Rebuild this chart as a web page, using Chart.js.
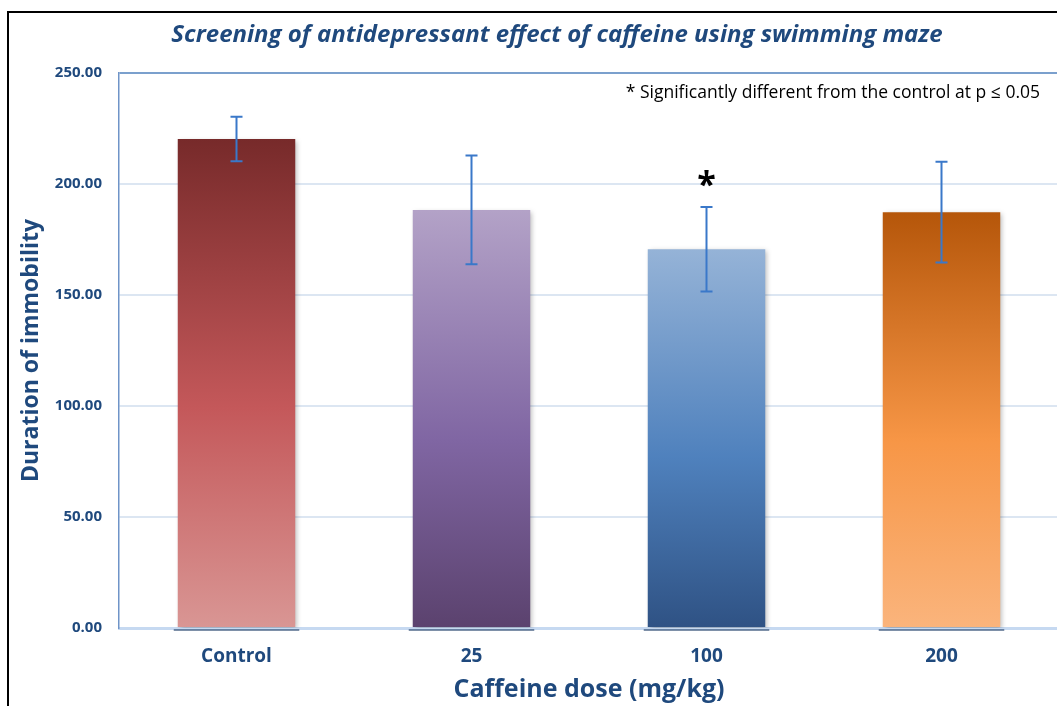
<!DOCTYPE html>
<html>
<head>
<meta charset="utf-8">
<script src="https://cdn.jsdelivr.net/npm/chart.js@4.4.0/dist/chart.umd.min.js"></script>
<style>
html, body { margin: 0; padding: 0; background: #fff; overflow: hidden; }
#wrap { position: relative; width: 1066px; height: 706px; }
#frame { position: absolute; left: 7px; top: 11px; width: 1100px; height: 800px; border-left: 2px solid #000; border-top: 2px solid #000; }
#c { position: absolute; left: 0; top: 0; }
</style>
</head>
<body>
<div id="wrap"><div id="frame"></div><canvas id="c" width="1066" height="706"></canvas></div>
<script>
/* Caffeine swimming maze — bar chart with SD bars */
const doseLabels = ['Control', '25', '100', '200'];
const immobility = [220.3, 188.3, 170.6, 187.3];
const immobilityErr = [10, 24.5, 19, 22.7];
const sigMarks = ['', '', '*', ''];
const yTicks = [0, 50, 100, 150, 200, 250];
const chartTitle = 'Screening of antidepressant effect of caffeine using swimming maze';
const noteText = '* Significantly different from the control at p \u2264 0.05';

const NAVY = '#1f497d';
const FONT = '"Open Sans"';
const GRADS = [
    ['#772a2a', '#c4585a', '#d99694'],
    ['#b3a2c7', '#8066a3', '#5b426e'],
    ['#95b3d7', '#4f81bd', '#2f5284'],
    ['#b5560a', '#f79646', '#fab47c'],
];

function barFill(c) {
    const { chart, dataIndex } = c;
    if (!chart.chartArea) return GRADS[dataIndex][1];
    const y = chart.scales.y;
    const g = chart.ctx.createLinearGradient(0, y.getPixelForValue(immobility[dataIndex]), 0, y.getPixelForValue(0));
    const s = GRADS[dataIndex];
    g.addColorStop(0, s[0]); g.addColorStop(0.55, s[1]); g.addColorStop(1, s[2]);
    return g;
}

const barShadow = {
    id: 'barShadow',
    beforeDatasetDraw(chart) {
        const ctx = chart.ctx;
        ctx.save();
        ctx.shadowColor = 'rgba(0,0,0,0.28)';
        ctx.shadowBlur = 5;
        ctx.shadowOffsetX = 2;
        ctx.shadowOffsetY = 2;
    },
    afterDatasetDraw(chart) {
        chart.ctx.restore();
        // dark base line under each bar
        const ctx = chart.ctx;
        const base = chart.scales.y.getPixelForValue(0);
        ctx.save();
        ctx.strokeStyle = 'rgba(40,70,110,0.8)';
        ctx.lineWidth = 1.5;
        chart.getDatasetMeta(0).data.forEach(b => {
            ctx.beginPath();
            ctx.moveTo(b.x - b.width / 2 - 4, base + 2);
            ctx.lineTo(b.x + b.width / 2 + 4, base + 2);
            ctx.stroke();
        });
        ctx.restore();
    }
};

const errorBars = {
    id: 'errorBars',
    afterDatasetsDraw(chart) {
        const { ctx, scales: { x, y } } = chart;
        ctx.save();
        ctx.strokeStyle = '#3a78c9';
        ctx.lineWidth = 2;
        immobility.forEach((v, i) => {
            const px = x.getPixelForValue(i);
            const top = y.getPixelForValue(v + immobilityErr[i]);
            const bot = y.getPixelForValue(v - immobilityErr[i]);
            ctx.beginPath();
            ctx.moveTo(px, top); ctx.lineTo(px, bot);
            ctx.moveTo(px - 6, top); ctx.lineTo(px + 6, top);
            ctx.moveTo(px - 6, bot); ctx.lineTo(px + 6, bot);
            ctx.stroke();
        });
        // significance marks
        ctx.fillStyle = '#000';
        ctx.font = 'bold 34px ' + FONT;
        ctx.textAlign = 'center';
        ctx.textBaseline = 'alphabetic';
        sigMarks.forEach((m, i) => {
            if (!m) return;
            ctx.fillText(m, x.getPixelForValue(i), y.getPixelForValue(immobility[i] + immobilityErr[i]) - 11);
        });
        // note
        ctx.font = '17.5px ' + FONT;
        ctx.textAlign = 'right';
        ctx.textBaseline = 'middle';
        ctx.fillText(noteText, 1040, 93);
        // chart title
        ctx.fillStyle = NAVY;
        ctx.font = 'italic bold 24px ' + FONT;
        ctx.textAlign = 'center';
        ctx.fillText(chartTitle, 557, 35);
        ctx.restore();
    }
};

new Chart(document.getElementById('c').getContext('2d'), {
    type: 'bar',
    data: {
        labels: doseLabels,
        datasets: [{
            data: immobility,
            backgroundColor: barFill,
            borderWidth: 0,
            barPercentage: 0.5,
            categoryPercentage: 1
        }]
    },
    options: {
        responsive: false,
        animation: false,
        layout: { padding: { left: 0, right: 7, top: 73, bottom: 0 } },
        plugins: {
            legend: { display: false },
            tooltip: { enabled: false },
            title: { display: false }
        },
        scales: {
            x: {
                grid: { display: false, drawTicks: false },
                border: { color: '#c6d9f1', width: 3 },
                ticks: { color: NAVY, font: { family: FONT, size: 19, weight: 'bold' }, padding: 17 },
                title: {
                    display: true, text: 'Caffeine dose (mg/kg)', color: NAVY,
                    font: { family: FONT, size: 25, weight: 'bold', lineHeight: 1.2 },
                    padding: { top: 0, bottom: 1 }
                },
                afterFit(s) { s.height = 78; }
            },
            y: {
                min: 0, max: 250,
                afterBuildTicks(s) { s.ticks = yTicks.map(v => ({ value: v })); },
                grid: {
                    drawTicks: false,
                    lineWidth: 2,
                    color: c => c.tick && c.tick.value === 250 ? '#7ba0cd' : '#dce6f2'
                },
                border: { color: '#6f94c8', width: 1.5 },
                ticks: {
                    color: NAVY, font: { family: FONT, size: 15, weight: 'bold' }, padding: 17,
                    callback: v => Number(v).toFixed(2)
                },
                title: {
                    display: true, text: 'Duration of immobility', color: NAVY,
                    font: { family: FONT, size: 23, weight: 'bold', lineHeight: 1.2 },
                    padding: { top: 18, bottom: 0 }
                },
                afterFit(s) { s.width = 119; }
            }
        }
    },
    plugins: [barShadow, errorBars]
});
</script>
</body>
</html>
